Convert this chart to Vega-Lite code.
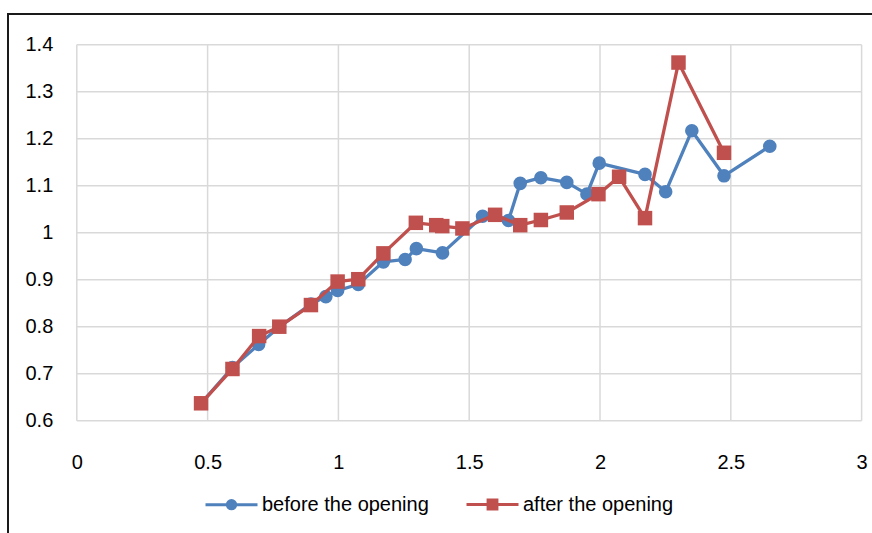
{
  "$schema": "https://vega.github.io/schema/vega-lite/v6.json",
  "width": 868,
  "height": 523,
  "autosize": {"type": "none"},
  "padding": {"left": 8, "top": 14, "right": -4, "bottom": -4},
  "background": "white",
  "config": {
    "view": {"stroke": "#1a1a1a", "strokeWidth": 2},
    "axis": {"labelFont": "Liberation Sans", "labelFontSize": 20, "labelColor": "#000", "grid": false, "domain": false, "ticks": false, "title": null},
    "legend": {"labelFont": "Liberation Sans", "labelFontSize": 20, "labelColor": "#000", "labelLimit": 0}
  },
  "datasets": {
    "series": [
      {"s": "before the opening", "x": 0.475, "y": 0.637},
      {"s": "before the opening", "x": 0.595, "y": 0.713},
      {"s": "before the opening", "x": 0.695, "y": 0.762},
      {"s": "before the opening", "x": 0.775, "y": 0.800},
      {"s": "before the opening", "x": 0.895, "y": 0.848},
      {"s": "before the opening", "x": 0.952, "y": 0.864},
      {"s": "before the opening", "x": 0.997, "y": 0.877},
      {"s": "before the opening", "x": 1.076, "y": 0.890},
      {"s": "before the opening", "x": 1.172, "y": 0.938},
      {"s": "before the opening", "x": 1.255, "y": 0.943},
      {"s": "before the opening", "x": 1.298, "y": 0.966},
      {"s": "before the opening", "x": 1.398, "y": 0.957},
      {"s": "before the opening", "x": 1.551, "y": 1.035},
      {"s": "before the opening", "x": 1.650, "y": 1.026},
      {"s": "before the opening", "x": 1.695, "y": 1.105},
      {"s": "before the opening", "x": 1.774, "y": 1.117},
      {"s": "before the opening", "x": 1.873, "y": 1.107},
      {"s": "before the opening", "x": 1.950, "y": 1.082},
      {"s": "before the opening", "x": 1.997, "y": 1.148},
      {"s": "before the opening", "x": 2.172, "y": 1.124},
      {"s": "before the opening", "x": 2.251, "y": 1.087},
      {"s": "before the opening", "x": 2.351, "y": 1.217},
      {"s": "before the opening", "x": 2.474, "y": 1.121},
      {"s": "before the opening", "x": 2.649, "y": 1.184},
      {"s": "after the opening", "x": 0.475, "y": 0.637},
      {"s": "after the opening", "x": 0.595, "y": 0.710},
      {"s": "after the opening", "x": 0.697, "y": 0.780},
      {"s": "after the opening", "x": 0.774, "y": 0.800},
      {"s": "after the opening", "x": 0.895, "y": 0.846},
      {"s": "after the opening", "x": 0.997, "y": 0.896},
      {"s": "after the opening", "x": 1.076, "y": 0.901},
      {"s": "after the opening", "x": 1.172, "y": 0.956},
      {"s": "after the opening", "x": 1.296, "y": 1.021},
      {"s": "after the opening", "x": 1.374, "y": 1.016},
      {"s": "after the opening", "x": 1.397, "y": 1.014},
      {"s": "after the opening", "x": 1.474, "y": 1.009},
      {"s": "after the opening", "x": 1.599, "y": 1.038},
      {"s": "after the opening", "x": 1.695, "y": 1.016},
      {"s": "after the opening", "x": 1.774, "y": 1.027},
      {"s": "after the opening", "x": 1.873, "y": 1.043},
      {"s": "after the opening", "x": 1.994, "y": 1.082},
      {"s": "after the opening", "x": 2.073, "y": 1.119},
      {"s": "after the opening", "x": 2.172, "y": 1.031},
      {"s": "after the opening", "x": 2.300, "y": 1.362},
      {"s": "after the opening", "x": 2.474, "y": 1.170}
    ],
    "vgrid": [{"v": 0}, {"v": 0.5}, {"v": 1}, {"v": 1.5}, {"v": 2}, {"v": 2.5}, {"v": 3}],
    "hgrid": [{"v": 0.6}, {"v": 0.7}, {"v": 0.8}, {"v": 0.9}, {"v": 1.0}, {"v": 1.1}, {"v": 1.2}, {"v": 1.3}, {"v": 1.4}]
  },
  "data": {"name": "series"},
  "layer": [
    {
      "data": {"name": "vgrid"},
      "mark": {"type": "rule", "stroke": "#d9d9d9", "strokeWidth": 1.5},
      "encoding": {
        "x": {"field": "v", "type": "quantitative", "scale": {"domain": [-0.263, 3.055], "nice": false, "zero": false},
              "axis": {"values": [0, 0.5, 1, 1.5, 2, 2.5, 3], "format": "~g", "offset": -112.3, "labelPadding": 28}},
        "y": {"datum": 0.6, "type": "quantitative"},
        "y2": {"datum": 1.4}
      }
    },
    {
      "data": {"name": "hgrid"},
      "mark": {"type": "rule", "stroke": "#d9d9d9", "strokeWidth": 1.5},
      "encoding": {
        "y": {"field": "v", "type": "quantitative", "scale": {"domain": [0.3525, 1.4653], "nice": false, "zero": false},
              "axis": {"values": [0.6, 0.7, 0.8, 0.9, 1, 1.1, 1.2, 1.3, 1.4], "format": "~g", "offset": -68.8, "labelPadding": 24}},
        "x": {"datum": 0, "type": "quantitative"},
        "x2": {"datum": 3}
      }
    },
    {
      "transform": [{"filter": "datum.s === 'before the opening'"}],
      "mark": {"type": "line", "strokeWidth": 3.3, "strokeJoin": "round"},
      "encoding": {
        "x": {"field": "x", "type": "quantitative"},
        "y": {"field": "y", "type": "quantitative"},
        "color": {"field": "s", "type": "nominal",
          "scale": {"domain": ["before the opening", "after the opening"], "range": ["#4f81bd", "#c0504d"]},
          "legend": {
            "orient": "none", "legendX": 196, "legendY": 463, "direction": "horizontal", "title": null,
            "padding": 0, "symbolSize": 2704, "symbolStrokeWidth": 3, "labelOffset": 3, "columnPadding": 31, "labelLimit": 0,
            "encode": {
              "symbols": {
                "update": {
                  "shape": {"signal": "datum.value === 'before the opening' ? 'M-1,0H1M0.16,0A0.16,0.16 0 1 1 -0.16,0A0.16,0.16 0 1 1 0.16,0Z' : 'M-1,0H1M-0.17,-0.17H0.17V0.17H-0.17Z'"},
                  "fill": {"signal": "datum.value === 'before the opening' ? '#4f81bd' : '#c0504d'"},
                  "stroke": {"signal": "datum.value === 'before the opening' ? '#4f81bd' : '#c0504d'"},
                  "strokeWidth": {"value": 3},
                  "opacity": {"value": 1}
                }
              }
            }
          }
        }
      }
    },
    {
      "transform": [{"filter": "datum.s === 'before the opening'"}],
      "mark": {"type": "point", "shape": "circle", "filled": true, "size": 185, "opacity": 1},
      "encoding": {
        "x": {"field": "x", "type": "quantitative"},
        "y": {"field": "y", "type": "quantitative"},
        "color": {"field": "s", "type": "nominal"}
      }
    },
    {
      "transform": [{"filter": "datum.s === 'after the opening'"}],
      "mark": {"type": "line", "strokeWidth": 3.3, "strokeJoin": "round"},
      "encoding": {
        "x": {"field": "x", "type": "quantitative"},
        "y": {"field": "y", "type": "quantitative"},
        "color": {"field": "s", "type": "nominal"}
      }
    },
    {
      "transform": [{"filter": "datum.s === 'after the opening'"}],
      "mark": {"type": "point", "shape": "square", "filled": true, "size": 210, "opacity": 1},
      "encoding": {
        "x": {"field": "x", "type": "quantitative"},
        "y": {"field": "y", "type": "quantitative"},
        "color": {"field": "s", "type": "nominal"}
      }
    }
  ]
}
